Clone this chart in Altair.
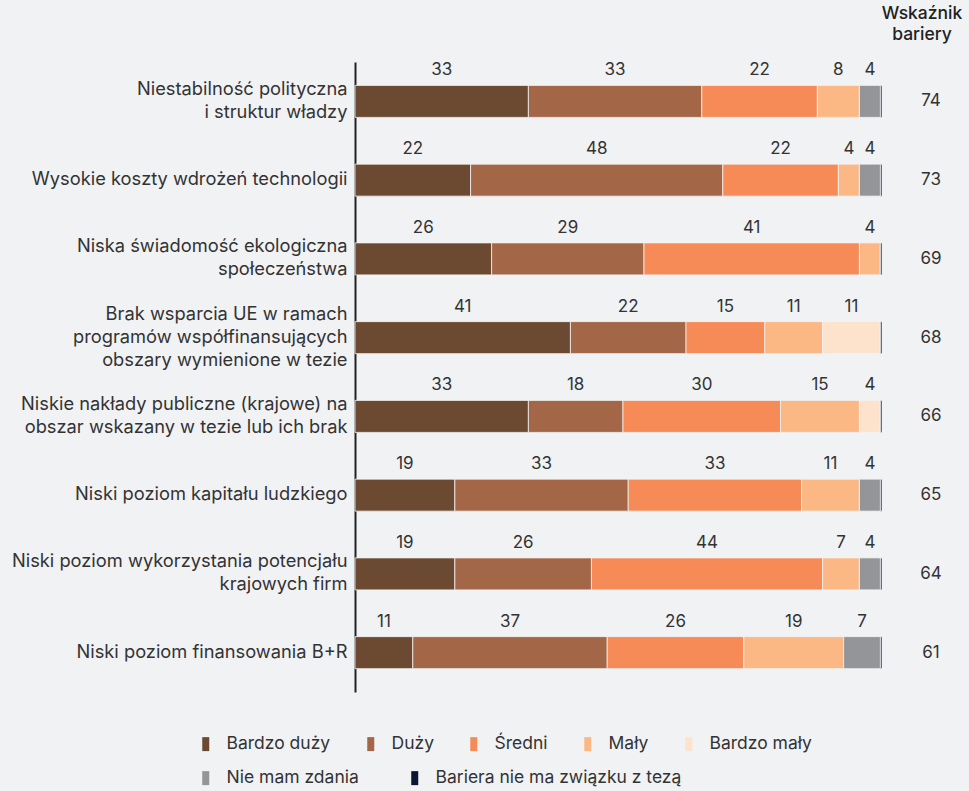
import altair as alt
import pandas as pd

categories = [
    "Niestabilność polityczna|i struktur władzy",
    "Wysokie koszty wdrożeń technologii",
    "Niska świadomość ekologiczna|społeczeństwa",
    "Brak wsparcia UE w ramach|programów współfinansujących|obszary wymienione w tezie",
    "Niskie nakłady publiczne (krajowe) na|obszar wskazany w tezie lub ich brak",
    "Niski poziom kapitału ludzkiego",
    "Niski poziom wykorzystania potencjału|krajowych firm",
    "Niski poziom finansowania B+R",
]
levels = ["Bardzo duży", "Duży", "Średni", "Mały", "Bardzo mały",
          "Nie mam zdania", "Bariera nie ma związku z tezą"]
colors = ["#6b4a31", "#a36647", "#f68b57", "#fbb885", "#fde3cc", "#939598", "#0b1633"]

bardzo_duzy = [33, 22, 26, 41, 33, 19, 19, 11]
duzy = [33, 48, 29, 22, 18, 33, 26, 37]
sredni = [22, 22, 41, 15, 30, 33, 44, 26]
maly = [8, 4, 4, 11, 15, 11, 7, 19]
bardzo_maly = [0, 0, 0, 11, 4, 0, 0, 0]
nie_mam = [4, 4, 0, 0, 0, 4, 4, 7]
bariera = [0.3, 0.3, 0.3, 0.3, 0.3, 0.3, 0.3, 0.3]
wskaznik = [74, 73, 69, 68, 66, 65, 64, 61]

series = [bardzo_duzy, duzy, sredni, maly, bardzo_maly, nie_mam, bariera]
rows = []
for li, (lev, vals) in enumerate(zip(levels, series)):
    for ci, cat in enumerate(categories):
        rows.append({"kat": cat, "poziom": lev, "ord": li, "wartosc": vals[ci]})
df = pd.DataFrame(rows)
idx_df = pd.DataFrame({"kat": categories, "wsk": wskaznik})
head_df = pd.DataFrame({"t": ["Wskaźnik\nbariery"]})

FONT = "Inter"
TXT = "#333333"
W, H = 527, 630
LH = 23

label_offset = {
    "condition": [
        {"test": "length(split(datum.label, '|')) == 3", "value": -LH},
        {"test": "length(split(datum.label, '|')) == 2", "value": -LH / 2},
    ],
    "value": 0,
}

yenc = alt.Y("kat:N", sort=categories, title=None,
             scale=alt.Scale(paddingInner=0, paddingOuter=0),
             axis=alt.Axis(labelExpr="split(datum.label, '|')", labelFontSize=18.3,
                           labelFont=FONT, labelColor=TXT, labelPadding=8,
                           labelOffset=label_offset,
                           ticks=False, domainColor="#222222", domainWidth=2,
                           labelLineHeight=LH, labelLimit=400))
xscale = alt.Scale(domain=[0, 100.3], nice=False)

base = alt.Chart(df).transform_stack(
    stack="wartosc", groupby=["kat"], as_=["x0", "x1"],
    sort=[alt.SortField("ord", order="ascending")]
)

legend_common = dict(title=None, orient="none", direction="horizontal",
                     symbolType="M-0.5,-1H0.5V1H-0.5Z", symbolSize=196,
                     symbolStrokeWidth=0, symbolOpacity=1,
                     labelFont=FONT, labelFontSize=17.5, labelColor=TXT,
                     labelOffset=12, labelLimit=400)

bars1 = base.transform_filter("datum.ord < 5").mark_bar(
    size=32, stroke="#f1f2f4", strokeWidth=0.8).encode(
    y=yenc,
    x=alt.X("x0:Q", scale=xscale, axis=None),
    x2="x1:Q",
    color=alt.Color("poziom:N", sort=levels[:5],
                    scale=alt.Scale(domain=levels[:5], range=colors[:5]),
                    legend=alt.Legend(legendX=-158, legendY=673, columns=5,
                                      columnPadding=31, **legend_common)),
)

bars2 = base.transform_filter("datum.ord >= 5").mark_bar(
    size=32, stroke="#f1f2f4", strokeWidth=0.8).encode(
    y=alt.Y("kat:N", sort=categories),
    x=alt.X("x0:Q", scale=xscale),
    x2="x1:Q",
    color=alt.Color("poziom:N", sort=levels[5:],
                    scale=alt.Scale(domain=levels[5:], range=colors[5:]),
                    legend=alt.Legend(legendX=-158, legendY=707, columns=2,
                                      columnPadding=47, **legend_common)),
)

labels = base.transform_filter("datum.wartosc >= 1").transform_calculate(
    mid="(datum.x0 + datum.x1) / 2"
).mark_text(dy=-31, fontSize=17, font=FONT, color=TXT, baseline="middle").encode(
    y=alt.Y("kat:N", sort=categories),
    x=alt.X("mid:Q", scale=xscale),
    text=alt.Text("wartosc:Q", format="d"),
)

idx = alt.Chart(idx_df).mark_text(fontSize=17, font=FONT, color=TXT, baseline="middle").encode(
    y=alt.Y("kat:N", sort=categories),
    x=alt.value(W + 49),
    text="wsk:Q",
)

head = alt.Chart(head_df).mark_text(fontSize=17.5, font=FONT, color="#222222", fontWeight=500,
                                    lineBreak="\n", lineHeight=21, baseline="middle").encode(
    x=alt.value(W + 40), y=alt.value(-48), text="t:N")

chart = alt.layer(bars1, bars2, labels, idx, head).resolve_scale(
    color="independent"
).properties(
    width=W, height=H,
    autosize=alt.AutoSizeParams(type="none"),
    padding={"left": 355, "top": 62, "right": 87, "bottom": 99},
    background="#f1f2f4",
).configure_view(stroke=None)

chart.save("out.html", embed_options={"renderer": "svg", "actions": False})
